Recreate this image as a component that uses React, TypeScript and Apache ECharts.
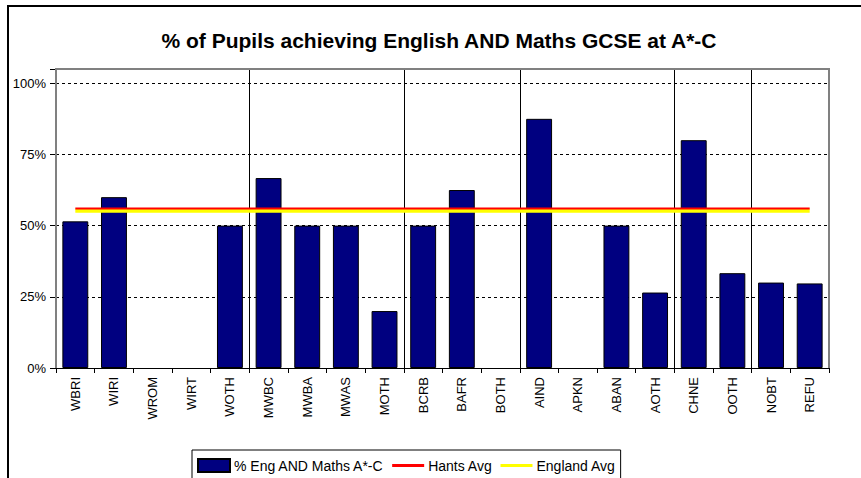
import React, { useEffect, useRef } from "react";
import * as echarts from "echarts";

const categories = [
  "WBRI", "WIRI", "WROM", "WIRT", "WOTH",
  "MWBC", "MWBA", "MWAS", "MOTH",
  "BCRB", "BAFR", "BOTH",
  "AIND", "APKN", "ABAN", "AOTH",
  "CHNE", "OOTH",
  "NOBT", "REFU",
];

const engMaths = [51.5, 60, 0, 0, 50, 66.7, 50, 50, 20, 50, 62.5, 0, 87.5, 0, 50, 26.5, 80, 33.3, 30, 29.7];
const hantsAvg = [56, 56, 56, 56, 56, 56, 56, 56, 56, 56, 56, 56, 56, 56, 56, 56, 56, 56, 56, 56];
const englandAvg = [55.2, 55.2, 55.2, 55.2, 55.2, 55.2, 55.2, 55.2, 55.2, 55.2, 55.2, 55.2, 55.2, 55.2, 55.2, 55.2, 55.2, 55.2, 55.2, 55.2];
const groupStarts = [5, 9, 12, 16, 18];
const yTicks = [0, 25, 50, 75, 100];

const FONT = "'Liberation Sans', Arial, sans-serif";

export default function App() {
  const ref = useRef<HTMLDivElement>(null);
  useEffect(() => {
    if (!ref.current) return;
    const chart = echarts.init(ref.current, undefined, { renderer: "svg" });
    const gl = 56, gt = 69, gr = 829, gb = 368;
    chart.setOption({
      animation: false,
      backgroundColor: "#ffffff",
      textStyle: { fontFamily: FONT },
      title: {
        text: "% of Pupils achieving English AND Maths GCSE at A*-C",
        left: 434,
        top: 25,
        textAlign: "center",
        textStyle: { fontFamily: FONT, fontSize: 21, fontWeight: "bold", color: "#000" },
      },
      legend: {
        data: [
          { name: "% Eng AND Maths A*-C", icon: "rect" },
          { name: "Hants Avg", icon: "path://M0,0H32V3H0Z" },
          { name: "England Avg", icon: "path://M0,0H32V3H0Z" },
        ],
        left: 192,
        top: 450,
        padding: [8, 5, 12, 5],
        borderColor: "#000",
        borderWidth: 1,
        itemWidth: 32,
        itemHeight: 13,
        itemGap: 8,
        textStyle: { fontFamily: FONT, fontSize: 14, color: "#000", padding: [0, 0, 0, -1] },
      },
      grid: { left: gl, top: gt, right: 861 - gr, bottom: 478 - gb, containLabel: false },
      xAxis: {
        type: "category",
        data: categories,
        boundaryGap: true,
        axisLine: { show: true, lineStyle: { color: "#000", width: 1 } },
        axisTick: { show: true, length: 5, lineStyle: { color: "#000" }, alignWithLabel: false },
        axisLabel: { rotate: 90, fontSize: 13, color: "#000", margin: 9, fontFamily: FONT, interval: 0 },
        splitLine: {
          show: true,
          interval: (i: number) => groupStarts.includes(i),
          lineStyle: { color: "#000", width: 1, type: "solid" },
        },
      },
      yAxis: {
        type: "value",
        min: 0,
        max: 105,
        interval: 25,
        axisLine: { show: false },
        axisTick: { show: true, length: 6, lineStyle: { color: "#000" } },
        axisLabel: {
          fontSize: 13,
          color: "#000",
          margin: 10,
          fontFamily: FONT,
          formatter: (v: number) => (yTicks.includes(v) ? v + "%" : ""),
        },
        splitLine: { show: true, lineStyle: { color: "#000", type: [3, 3], width: 1 } },
      },
      graphic: [
        {
          type: "polyline",
          z: 100,
          silent: true,
          shape: { points: [[gl, gb], [gl, gt], [gr, gt], [gr, gb]] },
          style: { stroke: "#808080", lineWidth: 2, fill: "none" },
        },
        {
          type: "rect",
          z: 100,
          silent: true,
          shape: { x: 8, y: 6, width: 1000, height: 600 },
          style: { stroke: "#000", lineWidth: 2, fill: "none" },
        },
      ],
      series: [
        {
          name: "% Eng AND Maths A*-C",
          type: "bar",
          data: engMaths.map((v) => (v === 0 ? { value: v, itemStyle: { borderWidth: 0 } } : v)),
          barCategoryGap: "33%",
          itemStyle: { color: "#000080", borderColor: "#000", borderWidth: 1 },
          z: 2,
        },
        {
          name: "Hants Avg",
          type: "line",
          data: hantsAvg,
          symbol: "none",
          lineStyle: { color: "#ff0000", width: 2 },
          itemStyle: { color: "#ff0000" },
          z: 4,
        },
        {
          name: "England Avg",
          type: "line",
          data: englandAvg,
          symbol: "none",
          lineStyle: { color: "#ffff00", width: 4 },
          itemStyle: { color: "#ffff00" },
          z: 3,
        },
      ],
    });
    return () => chart.dispose();
  }, []);
  return (
    <div
      ref={ref}
      style={{ position: "absolute", left: 0, top: 0, width: 861, height: 478 }}
    />
  );
}
